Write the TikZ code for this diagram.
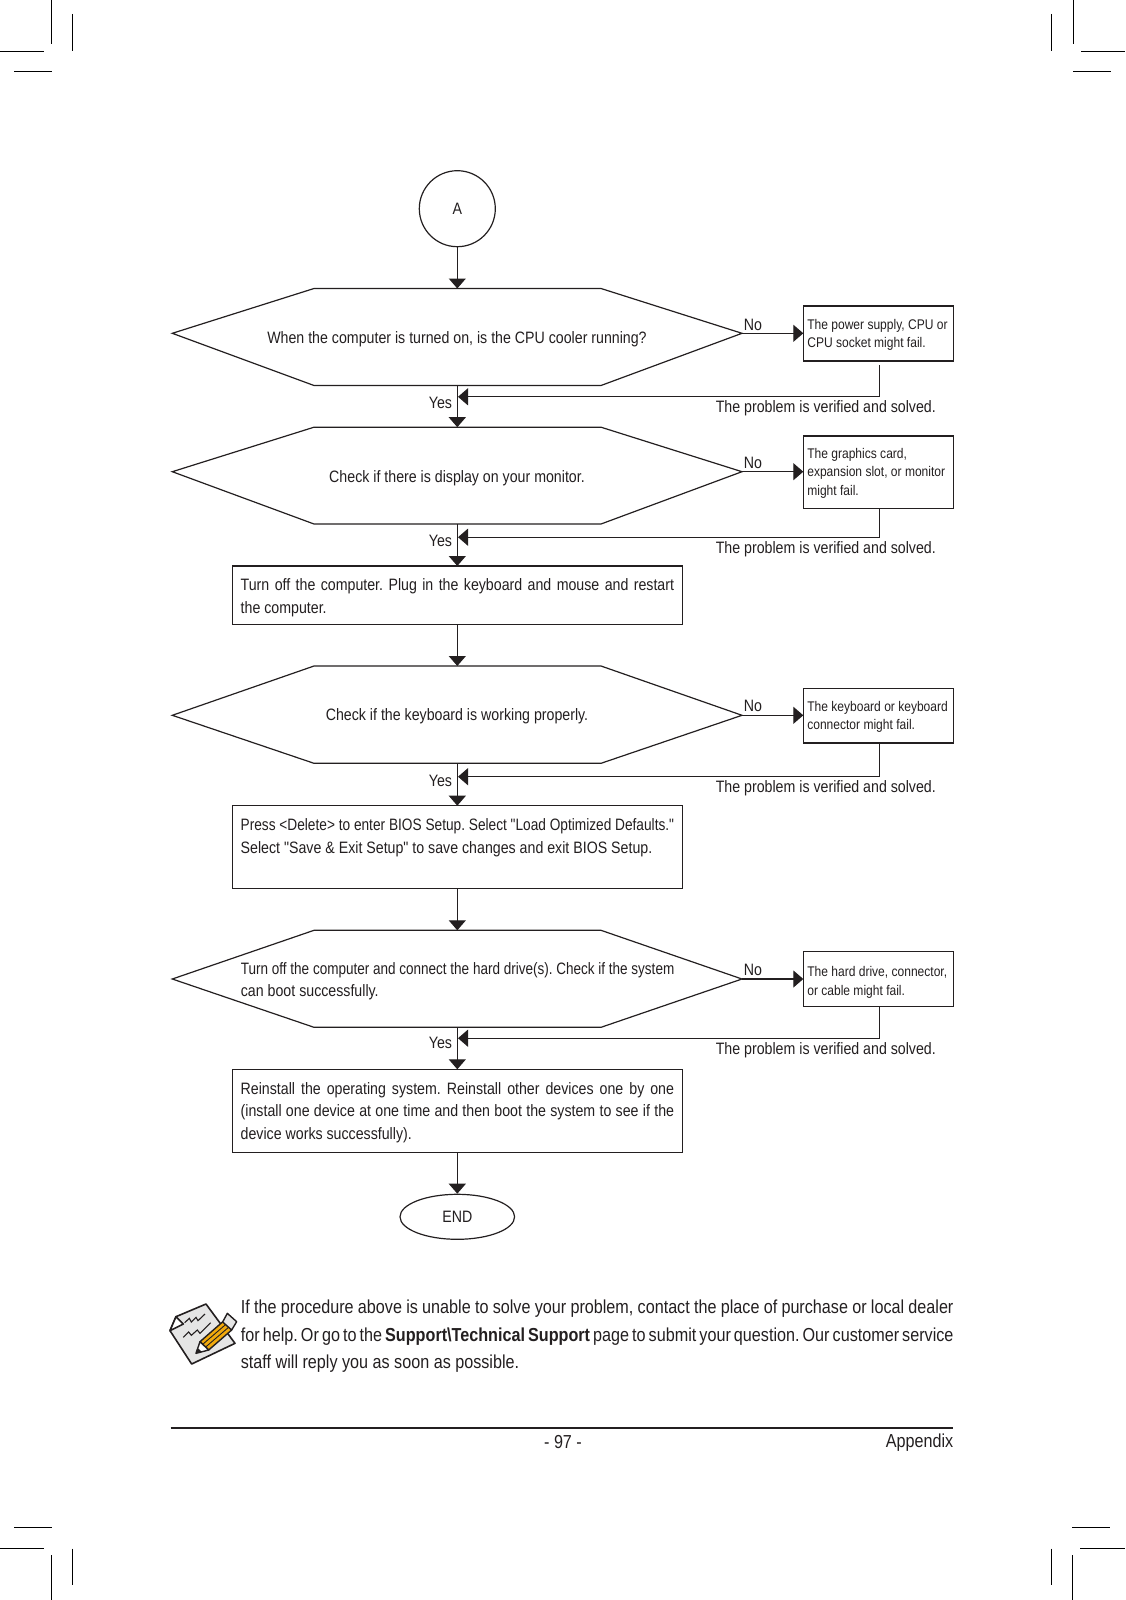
\documentclass[tikz,border=0pt]{standalone}
\usepackage{graphicx}
\usepackage{fontspec}
\setmainfont[FakeStretch=0.86]{Liberation Sans}
\newfontfamily\plainfont[FakeStretch=0.86]{Liberation Sans}
\usetikzlibrary{arrows.meta,shapes.geometric}
\definecolor{ink}{HTML}{231F20}
\definecolor{pencil}{HTML}{F2AA0C}
\AtBeginDocument{\frenchspacing}
\newcommand{\sq}{{\plainfont"}}
\newcommand{\fitline}[1]{\resizebox{433.4pt}{\height}{#1}}
\tikzset{
  outline/.style={draw=ink,line width=1.2pt},
  flow/.style={draw=ink,line width=1.2pt,-{Triangle[length=10pt,width=17pt]}},
  crop/.style={draw=black,line width=1pt},
  label/.style={text=ink,font=\fontsize{16.5}{19}\selectfont,inner sep=0pt},
  step box/.style={outline,rectangle,anchor=north west,outer sep=0pt,text=ink,minimum width=450.2pt,inner xsep=8.4pt,inner ysep=0pt,text width=433.4pt,align=justify,font=\fontsize{16.5}{22.4}\selectfont,execute at begin node={\rule{0pt}{15.5pt}}},
  fail box/.style={outline,rectangle,anchor=north west,outer sep=0pt,text=ink,minimum width=150pt,inner xsep=4pt,inner ysep=0pt,text width=142pt,align=flush left,font=\fontsize{14}{18.4}\selectfont,execute at begin node={\rule{0pt}{12.5pt}}},
  note/.style={text=ink,inner sep=0pt,font=\fontsize{18.8}{27.2}\selectfont},
}
% hexagon: name, top, vertex, bottom
\newcommand{\hexa}[4]{
  \coordinate (#1-w) at (172.3,#3);
  \coordinate (#1-e) at (742,#3);
  \coordinate (#1-n) at (457.3,#2);
  \coordinate (#1-s) at (457.3,#4);
  \draw[outline] (#1-w) -- (314,#2) -- (601,#2) -- (#1-e) -- (601,#4) -- (314,#4) -- cycle;
}
\begin{document}
\begin{tikzpicture}[x=1pt,y=-1pt]
  \useasboundingbox (0,0) rectangle (1125,1600);

  % Crop marks
  \draw[crop] (0,51.5) -- (44,51.5);
  \draw[crop] (14,72) -- (51.5,72);
  \draw[crop] (51.5,0) -- (51.5,44);
  \draw[crop] (72.5,14) -- (72.5,51.5);
  \draw[crop] (1081,51.5) -- (1125,51.5);
  \draw[crop] (1073,72) -- (1111,72);
  \draw[crop] (1051.5,14) -- (1051.5,51.5);
  \draw[crop] (1073,0) -- (1073,44);
  \draw[crop] (14,1527.5) -- (51.5,1527.5);
  \draw[crop] (0,1548.5) -- (44,1548.5);
  \draw[crop] (51.5,1555) -- (51.5,1600);
  \draw[crop] (72.5,1548.5) -- (72.5,1585);
  \draw[crop] (1072,1527.5) -- (1110,1527.5);
  \draw[crop] (1080,1548.5) -- (1125,1548.5);
  \draw[crop] (1051.5,1548.5) -- (1051.5,1585);
  \draw[crop] (1072.5,1555) -- (1072.5,1600);

  % Start and hexagons
  \node (start) [circle,outline,minimum size=76pt,inner sep=0pt,text=ink,font=\fontsize{16.5}{19}\selectfont] at (457.3,208.7) {A};
  \hexa{h1}{288.5}{333.3}{385.5}
  \hexa{h2}{427.2}{471.7}{524}
  \hexa{h3}{666}{715.3}{763.3}
  \hexa{h4}{930.3}{979}{1027.3}
  \node (q1) [label] at (457,339.5) {When the computer is turned on, is the CPU cooler running?};
  \node (q2) [label] at (457,477.8) {Check if there is display on your monitor.};
  \node (q3) [label] at (457,716.5) {Check if the keyboard is working properly.};
  \node (q4) [label,anchor=west,text width=433.4pt,align=flush left,font=\fontsize{16.5}{22.4}\selectfont] at (240.7,981.5) {\fitline{Turn off the computer and connect the hard drive(s). Check if the system}\\can boot successfully.};

  % Steps
  \node (s1) [step box,minimum height=58.3pt,execute at begin node={\rule{0pt}{17.5pt}}] at (232.3,566) {Turn off the computer. Plug in the keyboard and mouse and restart\linebreak the computer.};
  \node (s2) [step box,minimum height=82.6pt] at (232.3,805.7) {\fitline{Press <Delete> to enter BIOS Setup. Select \sq Load Optimized Defaults.\sq}\\Select \sq Save \& Exit Setup\sq{} to save changes and exit BIOS Setup.\\[3pt]\mbox{}};
  \node (s3) [step box,minimum height=83pt] at (232.3,1069.3) {Reinstall the operating system. Reinstall other devices one by one\linebreak (install one device at one time and then boot the system to see if the\linebreak device works successfully).};
  \node (end) [ellipse,outline,minimum width=114.6pt,minimum height=45pt,inner sep=0pt,text=ink,font=\fontsize{16.5}{19}\selectfont] at (457.3,1216.8) {END};

  % Failures
  \node (f1) [fail box,minimum height=55pt] at (803.3,306) {The power supply, CPU or\\CPU socket might fail.};
  \node (f2) [fail box,minimum height=72.3pt] at (803.3,436) {The graphics card,\\expansion slot, or monitor\\might fail.};
  \node (f3) [fail box,minimum height=54.3pt] at (803.3,688.7) {The keyboard or keyboard\\connector might fail.};
  \node (f4) [fail box,minimum height=54.6pt,execute at begin node={\rule{0pt}{16.5pt}}] at (803.3,951.7) {The hard drive, connector,\\or cable might fail.};

  % Trunk
  \draw[flow] (start) -- (h1-n);
  \draw[flow] (h1-s) -- (h2-n);
  \draw[flow] (h2-s) -- (s1.north -| h2-s);
  \draw[flow] (s1.south -| h2-s) -- (h3-n);
  \draw[flow] (h3-s) -- (s2.north -| h3-s);
  \draw[flow] (s2.south -| h3-s) -- (h4-n);
  \draw[flow] (h4-s) -- (s3.north -| h4-s);
  \draw[flow] (s3.south -| h4-s) -- (end);

  % No branches
  \draw[flow] (h1-e) -- (f1.west |- h1-e);
  \draw[flow] (h2-e) -- (f2.west |- h2-e);
  \draw[flow] (h3-e) -- (f3.west |- h3-e);
  \draw[flow] (h4-e) -- (f4.west |- h4-e);
  \node (n1) [label] at (753,325) {No};
  \node (n2) [label] at (753,462.7) {No};
  \node (n3) [label] at (753,705.5) {No};
  \node (n4) [label] at (753,970) {No};

  % Solved branches
  \coordinate (b1) at (879.7,365.3);
  \coordinate (b2) at (879.7,508.3);
  \coordinate (b3) at (879.7,743);
  \coordinate (b4) at (879.7,1006.3);
  \coordinate (j1) at (458,396.8);
  \coordinate (j2) at (458,537.2);
  \coordinate (j3) at (458,776.7);
  \coordinate (j4) at (458,1038.2);
  \draw[flow] (b1) |- (j1);
  \draw[flow] (b2) |- (j2);
  \draw[flow] (b3) |- (j3);
  \draw[flow] (b4) |- (j4);
  \node (v1) [label] at (825.8,408.5) {The problem is verified and solved.};
  \node (v2) [label] at (825.8,549.5) {The problem is verified and solved.};
  \node (v3) [label] at (825.8,788.5) {The problem is verified and solved.};
  \node (v4) [label] at (825.8,1050.5) {The problem is verified and solved.};
  \node (y1) [label] at (440.5,402.8) {Yes};
  \node (y2) [label] at (440.5,540.5) {Yes};
  \node (y3) [label] at (440.5,780.5) {Yes};
  \node (y4) [label] at (440.5,1043.2) {Yes};

  % Note
  \begin{scope}[shift={(150,1280)},scale=1/3]
    \draw[draw=ink,fill=black!10,line width=1.6pt,line join=round] (78,110) -- (168,72) -- (255,190) -- (125,252) -- (60,152) -- cycle;
    \draw[draw=ink,fill=white,line width=1.6pt,line join=round] (78,110) -- (60,152) -- (100,132) -- cycle;
    \draw[draw=ink,line width=1.1pt] (104,128) -- (118,115) -- (124,126) -- (138,112) -- (144,122) -- (165,102);
    \draw[draw=ink,line width=1.1pt] (100,172) -- (116,156) -- (124,166) -- (142,150) -- (150,160) -- (182,128);
    \draw[draw=ink,fill=pencil,line width=1.4pt,line join=round] (150,185) -- (222,122) -- (245,150) -- (176,210) -- cycle;
    \draw[draw=ink,line width=0.9pt] (158,193) -- (230,131);
    \draw[draw=ink,line width=0.9pt] (167,201) -- (238,140);
    \draw[draw=ink,fill=black!10,line width=1.4pt,line join=round] (218,126) -- (232,100) -- (260,125) -- (245,150) -- cycle;
    \draw[draw=ink,fill=white,line width=1.4pt,line join=round] (150,185) -- (176,210) -- (138,220) -- cycle;
    \fill[ink] (138,220) -- (142,203) -- (155,215) -- cycle;
  \end{scope}
  \node (tip) [note,anchor=north west,text width=712.6pt,align=justify] at (240.7,1300) {If the procedure above is unable to solve your problem, contact the place of purchase or local dealer\linebreak for help. Or go to the \textbf{Support\textbackslash Technical Support} page to submit your question. Our customer service\linebreak staff will reply you as soon as possible.};

  % Footer
  \draw[draw=ink,line width=2.4pt] (170.7,1427.7) -- (953.3,1427.7);
  \node (page) [note] at (563,1442.5) {- 97 -};
  \node (app) [note,anchor=east] at (953.5,1442.5) {Appendix};
\end{tikzpicture}
\end{document}
